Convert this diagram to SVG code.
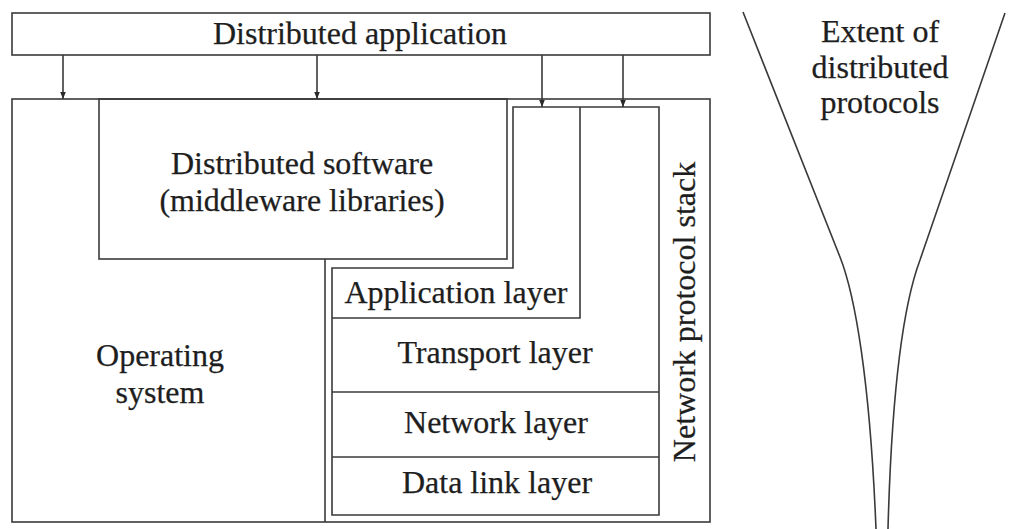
<svg xmlns="http://www.w3.org/2000/svg" width="1016" height="529" viewBox="0 0 1016 529">
  <style>
    .box { fill: none; stroke: #3a3a3a; stroke-width: 1.6; }
    .ln { fill: none; stroke: #3a3a3a; stroke-width: 1.6; }
    .lbl { font-family: "Liberation Serif", "Times New Roman", serif; font-size: 32px; fill: #1e1e1e; stroke: #1e1e1e; stroke-width: 0.25; text-anchor: middle; }
  </style>
  <defs>
    <marker id="arrow" viewBox="0 0 10 10" refX="10" refY="5" markerWidth="7" markerHeight="11" markerUnits="userSpaceOnUse" orient="auto">
      <path d="M0,1 L10,5 L0,9 Z" fill="#2a2a2a"/>
    </marker>
  </defs>
  <rect width="1016" height="529" fill="#ffffff"/>

  <!-- top layer -->
  <g id="distributed-application">
    <rect class="box" x="12" y="13" width="698" height="42"/>
    <text class="lbl" x="360" y="44">Distributed application</text>
  </g>

  <!-- host: operating system with the stack carved out -->
  <g id="operating-system">
    <rect class="box" x="12" y="99" width="698" height="423"/>
    <path class="ln" d="M325,259 V522"/>
    <text class="lbl" x="160" y="366">Operating</text>
    <text class="lbl" x="160" y="403">system</text>
  </g>

  <g id="middleware">
    <rect class="box" x="99" y="99" width="408" height="160"/>
    <text class="lbl" x="302" y="174">Distributed software</text>
    <text class="lbl" x="302" y="211">(middleware libraries)</text>
  </g>

  <g id="network-protocol-stack">
    <path class="ln" d="M332,268 H513 V107 H659 V515 H332 Z"/>
    <text class="lbl" transform="translate(695,312) rotate(-90)">Network protocol stack</text>
  </g>

  <g id="application-layer">
    <path class="ln" d="M332,318 H580 V107"/>
    <text class="lbl" x="456" y="303">Application layer</text>
  </g>

  <g id="transport-layer">
    <text class="lbl" x="495" y="363">Transport layer</text>
  </g>

  <g id="network-layer">
    <path class="ln" d="M332,392 H659"/>
    <text class="lbl" x="496" y="433">Network layer</text>
  </g>

  <g id="data-link-layer">
    <path class="ln" d="M332,457 H659"/>
    <text class="lbl" x="497" y="493">Data link layer</text>
  </g>

  <!-- funnel showing how far distributed protocols reach -->
  <g id="extent">
    <path class="ln" d="M743,12 L840,257 C855,295 870,380 876,529"/>
    <path class="ln" d="M1005,13 L920,260 C905,300 892,380 888,529"/>
    <text class="lbl" x="880" y="42">Extent of</text>
    <text class="lbl" x="880" y="78">distributed</text>
    <text class="lbl" x="880" y="113">protocols</text>
  </g>

  <g id="connectors">
    <path class="ln" d="M63,55 V99" marker-end="url(#arrow)"/>
    <path class="ln" d="M317,55 V99" marker-end="url(#arrow)"/>
    <path class="ln" d="M542,55 V107" marker-end="url(#arrow)"/>
    <path class="ln" d="M623,55 V107" marker-end="url(#arrow)"/>
  </g>
</svg>
